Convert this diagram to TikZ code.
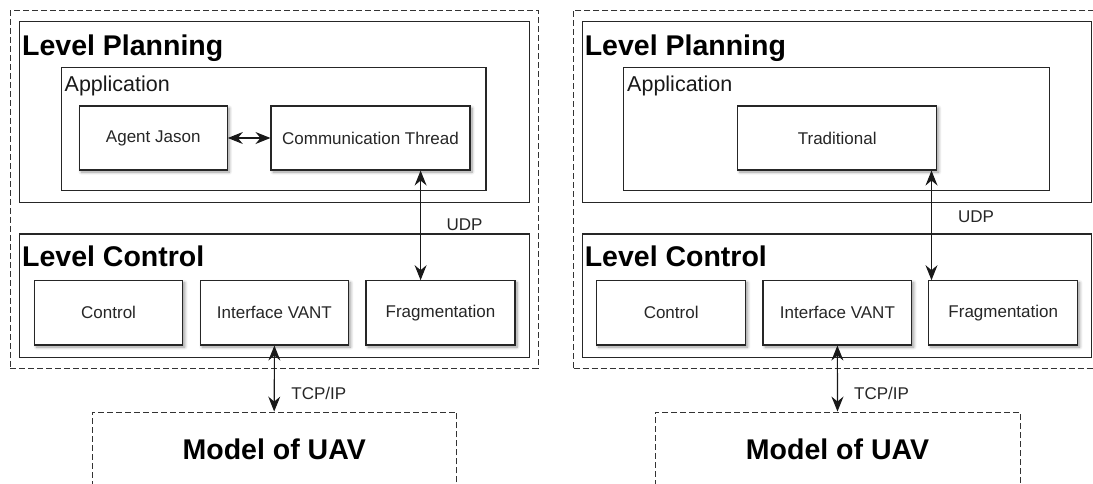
\documentclass[tikz,border=0pt]{standalone}
\usepackage{fontspec}
\setmainfont{Liberation Sans}
\usetikzlibrary{arrows.meta,shadows.blur}

\tikzset{
  frame/.style={draw=black!85, line width=1.1pt, inner sep=0pt},
  outerdash/.style={draw=black!80, line width=0.9pt, dash pattern=on 6pt off 3pt, inner sep=0pt},
  unit/.style={draw=black!85, line width=1.1pt, fill=white, inner sep=0pt,
    blur shadow={shadow xshift=2pt, shadow yshift=-2pt, shadow blur radius=3pt,
                 shadow blur steps=8, shadow opacity=40},
    font=\fontsize{17}{20}\selectfont, text=black!85},
  title/.style={anchor=base west, inner sep=0pt, font=\bfseries\fontsize{28.5}{32}\selectfont},
  subtitle/.style={anchor=base west, inner sep=0pt, font=\fontsize{21.5}{24}\selectfont, text=black!90},
  proto/.style={inner sep=0pt, font=\fontsize{17}{20}\selectfont, text=black!85},
  link/.style={draw=black!90, line width=1.1pt,
    {Stealth[length=15pt,width=12pt,inset=5pt]}-{Stealth[length=15pt,width=12pt,inset=5pt]}},
  model/.style={outerdash, font=\bfseries\fontsize{28.5}{32}\selectfont},
}

\begin{document}
\begin{tikzpicture}[x=1pt,y=-1pt]
\useasboundingbox (0,0) rectangle (1093,483);
\clip (0,0) rectangle (1093,483);

% ---------------- left stack: agent based ----------------
\node[outerdash, minimum width=527.6pt, minimum height=358pt] (outerL) at (274.2,189) {};
\node[frame, minimum width=509.9pt, minimum height=180.6pt] (lpL) at (274.75,112) {};
\node[title] (lpLt) at (22,55) {Level Planning};
\node[frame, minimum width=424.5pt, minimum height=123pt] (appL) at (273.75,129.2) {};
\node[subtitle] (appLt) at (64.5,91.7) {Application};
\node[unit, minimum width=148.1pt, minimum height=64pt] (agent) at (153.25,138) {Agent Jason};
\node[unit, minimum width=199pt, minimum height=64pt] (comm) at (370.5,138) {Communication Thread};

\node[frame, minimum width=509.9pt, minimum height=123.7pt] (lcL) at (274.75,295.85) {};
\node[title] (lcLt) at (22,266) {Level Control};
\node[unit, minimum width=148.4pt, minimum height=64.3pt] (ctrlL) at (108.6,312.85) {Control};
\node[unit, minimum width=148.4pt, minimum height=64.3pt] (ifaceL) at (274.4,312.85) {Interface VANT};
\node[unit, minimum width=149pt, minimum height=64.3pt] (fragL) at (440.5,312.85) {Fragmentation};

\node[model, minimum width=364.4pt, minimum height=75pt] (modelL) at (274.2,449.5) {Model of UAV};

\coordinate (udpL) at (420.6,0);
\draw[link] (agent.east) -- (comm.west);
\draw[link] (comm.south -| udpL) -- (fragL.north -| udpL);
\node[proto] (udpLt) at (464.5,225) {UDP};
\draw[link] (ifaceL.south) -- (modelL.north);
\node[proto, anchor=base] (tcpLt) at (318.8,399) {TCP/IP};

% ---------------- right stack: traditional ----------------
\node[outerdash, minimum width=531.4pt, minimum height=358pt] (outerR) at (839.3,189) {};
\node[frame, minimum width=509.1pt, minimum height=180.6pt] (lpR) at (836.95,112) {};
\node[title] (lpRt) at (584.6,55) {Level Planning};
\node[frame, minimum width=425.9pt, minimum height=123pt] (appR) at (836.55,129.2) {};
\node[subtitle] (appRt) at (627,91.7) {Application};
\node[unit, minimum width=198.8pt, minimum height=64pt] (trad) at (837.2,138) {Traditional};

\node[frame, minimum width=509.1pt, minimum height=123.7pt] (lcR) at (836.95,295.85) {};
\node[title] (lcRt) at (584.6,266) {Level Control};
\node[unit, minimum width=148.9pt, minimum height=64.3pt] (ctrlR) at (671.15,312.85) {Control};
\node[unit, minimum width=148.8pt, minimum height=64.3pt] (ifaceR) at (837.4,312.85) {Interface VANT};
\node[unit, minimum width=148.9pt, minimum height=64.3pt] (fragR) at (1003.25,312.85) {Fragmentation};

\node[model, minimum width=365pt, minimum height=75pt] (modelR) at (837.5,449.5) {Model of UAV};

\coordinate (udpR) at (931.5,0);
\draw[link] (trad.south -| udpR) -- (fragR.north -| udpR);
\node[proto] (udpRt) at (976,216.7) {UDP};
\draw[link] (ifaceR.south) -- (modelR.north);
\node[proto, anchor=base] (tcpRt) at (881.5,399) {TCP/IP};
\end{tikzpicture}
\end{document}
